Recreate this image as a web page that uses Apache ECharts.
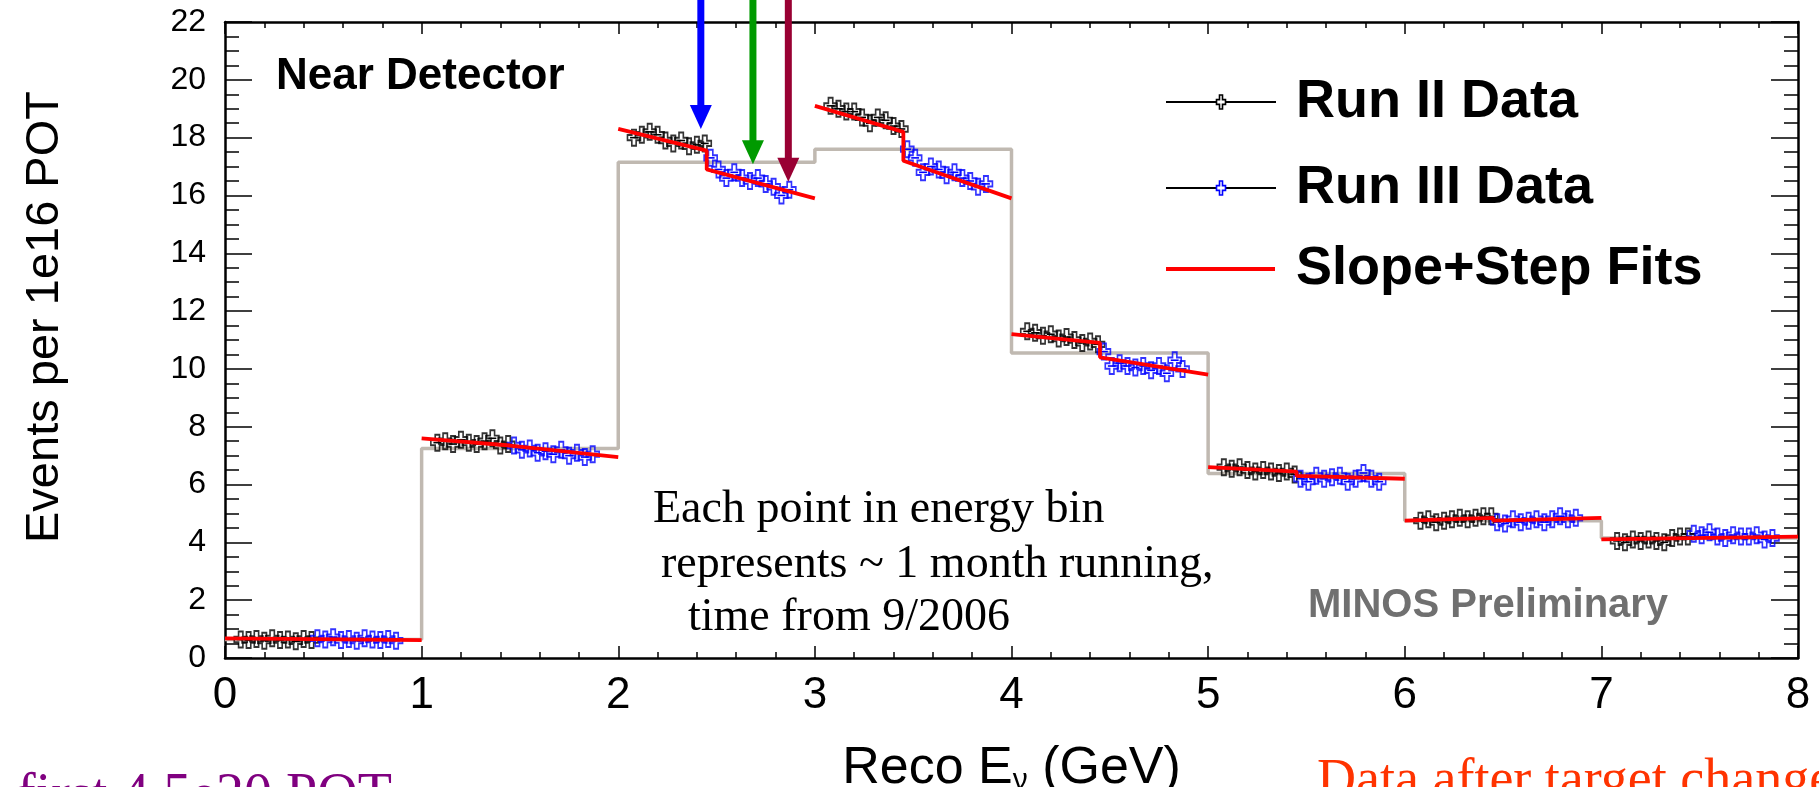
<!DOCTYPE html>
<html><head><meta charset="utf-8">
<script src="https://cdn.jsdelivr.net/npm/echarts@6/dist/echarts.min.js"></script>
<style>html,body{margin:0;padding:0;background:#fff}#c{width:1819px;height:787px}</style>
</head><body><div id="c"></div>
<script>
// ---------- data ----------
const binEdges = [0, 1, 2, 3, 4, 5, 6, 7];
// position of each monthly point inside an energy bin (fraction of the bin)
const runIIOffsets  = [0.08, 0.12, 0.16, 0.20, 0.24, 0.28, 0.32, 0.36, 0.40, 0.44];
const runIIIOffsets = [0.47, 0.51, 0.55, 0.59, 0.63, 0.67, 0.71, 0.75, 0.79, 0.83, 0.87];
const runII = [
  [0.64, 0.62, 0.66, 0.60, 0.68, 0.62, 0.64, 0.58, 0.66, 0.62],
  [7.45, 7.50, 7.40, 7.55, 7.45, 7.40, 7.50, 7.60, 7.35, 7.40],
  [18.00, 18.10, 18.20, 18.10, 17.90, 17.80, 17.90, 17.70, 17.75, 17.80],
  [19.10, 19.00, 18.90, 18.90, 18.70, 18.50, 18.70, 18.60, 18.40, 18.30],
  [11.30, 11.25, 11.15, 11.20, 11.05, 11.10, 11.00, 10.90, 10.95, 10.85],
  [6.60, 6.55, 6.60, 6.50, 6.45, 6.50, 6.45, 6.40, 6.45, 6.35],
  [4.75, 4.80, 4.70, 4.75, 4.80, 4.85, 4.80, 4.85, 4.90, 4.90],
  [4.05, 4.00, 4.10, 4.05, 4.10, 4.05, 4.00, 4.15, 4.20, 4.20]
];
const runIII = [
  [0.68, 0.64, 0.72, 0.62, 0.66, 0.60, 0.68, 0.64, 0.62, 0.66, 0.60],
  [7.35, 7.20, 7.25, 7.10, 7.15, 7.05, 7.20, 7.00, 7.10, 6.95, 7.05],
  [17.30, 16.90, 16.60, 16.80, 16.60, 16.50, 16.60, 16.40, 16.30, 16.00, 16.20],
  [17.60, 17.30, 16.80, 17.00, 16.90, 16.70, 16.80, 16.60, 16.50, 16.30, 16.40],
  [10.60, 10.10, 10.20, 10.10, 10.05, 10.10, 9.95, 10.10, 9.85, 10.30, 10.00],
  [6.20, 6.10, 6.30, 6.20, 6.25, 6.30, 6.10, 6.20, 6.40, 6.20, 6.10],
  [4.70, 4.65, 4.80, 4.70, 4.75, 4.80, 4.70, 4.80, 4.90, 4.80, 4.85],
  [4.30, 4.25, 4.35, 4.20, 4.15, 4.25, 4.20, 4.20, 4.25, 4.10, 4.15]
];
// slope+step fit per bin: [value at bin start, value before step, value after step, value at bin end]
const fitStepAt = 0.45;
const fits = [
  [0.68, 0.65, 0.64, 0.62],
  [7.60, 7.35, 7.30, 6.95],
  [18.30, 17.55, 16.90, 15.90],
  [19.10, 18.20, 17.20, 15.90],
  [11.20, 10.90, 10.40, 9.80],
  [6.60, 6.45, 6.30, 6.20],
  [4.75, 4.85, 4.75, 4.85],
  [4.10, 4.15, 4.20, 4.20]
];
// grey prediction histogram per bin
const mcHist = [0.64, 7.25, 17.15, 17.60, 10.55, 6.38, 4.75, 4.15];
// arrows: [energy, value at tip, colour]
const arrows = [[2.42, 18.30, '#0000ff'], [2.685, 17.08, '#009a00'], [2.865, 16.47, '#990033']];
const xErr = 0.02;

// ---------- build ----------
const crossPath = 'path://M-1,-3L1,-3L1,-1L3,-1L3,1L1,1L1,3L-1,3L-1,1L-3,1L-3,-1L-1,-1Z';
function pts(vals, offs) {
  const out = [];
  vals.forEach((row, b) => row.forEach((v, i) => out.push([binEdges[b] + offs[i], v])));
  return out;
}
const dII = pts(runII, runIIOffsets);
const dIII = pts(runIII, runIIIOffsets);
const histData = mcHist.map((v, i) => [binEdges[i], v]).concat([[8, mcHist[mcHist.length - 1]]]);

const sans = "'Liberation Sans', Arial, Helvetica, sans-serif";
const narrow = "'Liberation Sans Narrow', 'Liberation Sans', Arial, sans-serif";
const serif = "'Liberation Serif', 'Times New Roman', serif";

function errBars(color) {
  return function (params, api) {
    const y = api.value(1), x = api.value(0);
    const a = api.coord([x - xErr, y]), b = api.coord([x + xErr, y]);
    return { type: 'line', shape: { x1: a[0], y1: a[1], x2: b[0], y2: b[1] }, style: { stroke: color, lineWidth: 1.6 } };
  };
}

const series = [
  { name: 'prediction', type: 'line', step: 'end', data: histData, symbol: 'none',
    lineStyle: { color: '#c0b9b1', width: 3.5 }, z: 1, silent: true },
  { type: 'custom', data: dII, renderItem: errBars('#000'), z: 2, silent: true },
  { type: 'custom', data: dIII, renderItem: errBars('#0000ff'), z: 2, silent: true },
  { name: 'Run II Data', type: 'scatter', data: dII, symbol: crossPath, symbolSize: [13, 16],
    itemStyle: { color: 'rgba(255,255,255,0)', borderColor: '#000', borderWidth: 1.8 }, z: 3 },
  { name: 'Run III Data', type: 'scatter', data: dIII, symbol: crossPath, symbolSize: [13, 16],
    itemStyle: { color: 'rgba(255,255,255,0)', borderColor: '#0000ff', borderWidth: 1.8 }, z: 3 }
];
fits.forEach((f, b) => {
  const x0 = binEdges[b];
  series.push({ name: 'Slope+Step Fits', type: 'line', symbol: 'none', z: 4,
    data: [[x0, f[0]], [x0 + fitStepAt, f[1]], [x0 + fitStepAt, f[2]], [x0 + 1, f[3]]],
    lineStyle: { color: '#ff0000', width: 3.8 } });
});
series.push({ type: 'custom', z: 6, clip: false, silent: true, data: arrows,
  renderItem: function (params, api) {
    const tip = api.coord([api.value(0), api.value(1)]);
    const col = arrows[params.dataIndex][2];
    const headH = 24, headW = 11, sw = 3.5;
    return { type: 'group', children: [
      { type: 'rect', shape: { x: tip[0] - sw, y: 0, width: sw * 2, height: tip[1] - headH + 1 }, style: { fill: col } },
      { type: 'polygon', shape: { points: [[tip[0] - headW, tip[1] - headH], [tip[0] + headW, tip[1] - headH], [tip[0], tip[1]]] }, style: { fill: col } }
    ] };
  } });

function xAx(pos, show) {
  return { type: 'value', min: 0, max: 8, interval: 1, position: pos,
    axisLine: { onZero: false, lineStyle: { color: '#000', width: 2.5 } },
    axisTick: { inside: true, length: 12, lineStyle: { color: '#000', width: 1.5 } },
    minorTick: { show: true, splitNumber: 5, length: 6, lineStyle: { color: '#000', width: 1.5 } },
    splitLine: { show: false },
    axisLabel: { show: show, fontSize: 44, fontFamily: narrow, color: '#000', margin: 16 } };
}
function yAx(pos, show) {
  return { type: 'value', min: 0, max: 22, interval: 2, position: pos,
    axisLine: { onZero: false, lineStyle: { color: '#000', width: 2.5 } },
    axisTick: { inside: true, length: 27, lineStyle: { color: '#000', width: 1.5 } },
    minorTick: { show: true, splitNumber: 4, length: 14, lineStyle: { color: '#000', width: 1.5 } },
    splitLine: { show: false },
    axisLabel: { show: show, fontSize: 32, fontFamily: sans, color: '#000', margin: 19, padding: [9, 0, 0, 0] } };
}
const xMain = xAx('bottom', true);
xMain.name = 'Reco E{sub|ν} (GeV)';
xMain.nameLocation = 'middle';
xMain.nameGap = 84;
xMain.nameTextStyle = { fontSize: 52, fontFamily: narrow, color: '#000',
  rich: { sub: { fontSize: 30, fontFamily: narrow, verticalAlign: 'bottom', padding: [24, 0, 0, 0] } } };
const yMain = yAx('left', true);
yMain.name = 'Events per 1e16 POT';
yMain.nameLocation = 'middle';
yMain.nameGap = 156;
yMain.nameTextStyle = { fontSize: 47, fontFamily: sans, color: '#000', padding: [0, 0, 0, 46] };

// legend drawn as graphic
function crossPts(cx, cy, w, h) {
  const a = w / 6, b = h / 6;
  return [[cx - a, cy - 3 * b], [cx + a, cy - 3 * b], [cx + a, cy - b], [cx + 3 * a, cy - b], [cx + 3 * a, cy + b], [cx + a, cy + b],
    [cx + a, cy + 3 * b], [cx - a, cy + 3 * b], [cx - a, cy + b], [cx - 3 * a, cy + b], [cx - 3 * a, cy - b], [cx - a, cy - b]];
}
const legendRows = [
  { label: 'Run II Data', y: 102, kind: 'pt', col: '#000' },
  { label: 'Run III Data', y: 188, kind: 'pt', col: '#0000ff' },
  { label: 'Slope+Step Fits', y: 269, kind: 'fit', col: '#ff0000' }
];
const graphics = [];
legendRows.forEach(r => {
  if (r.kind === 'pt') {
    graphics.push({ type: 'line', shape: { x1: 1166, y1: r.y, x2: 1276, y2: r.y }, style: { stroke: '#000', lineWidth: 2 } });
    graphics.push({ type: 'polygon', shape: { points: crossPts(1221, r.y, 9, 14) }, style: { fill: '#fff', stroke: r.col, lineWidth: 1.6 } });
  } else {
    graphics.push({ type: 'line', shape: { x1: 1166, y1: r.y, x2: 1275, y2: r.y }, style: { stroke: r.col, lineWidth: 4 } });
  }
  graphics.push({ type: 'text', x: 1296, y: r.y, style: { text: r.label, fontSize: 54, fontWeight: 'bold', fontFamily: sans, fill: '#000', verticalAlign: 'middle', align: 'left' } });
});
graphics.push({ type: 'text', x: 276, y: 77, style: { text: 'Near Detector', fontSize: 44, fontWeight: 'bold', fontFamily: sans, fill: '#000', verticalAlign: 'middle' } });
graphics.push({ type: 'text', x: 1308, y: 606, style: { text: 'MINOS Preliminary', fontSize: 40, fontWeight: 'bold', fontFamily: sans, fill: '#707070', verticalAlign: 'middle' } });
graphics.push({ type: 'text', x: 653, y: 510, style: { text: 'Each point in energy bin', fontSize: 46, fontFamily: serif, fill: '#000', verticalAlign: 'middle' } });
graphics.push({ type: 'text', x: 661, y: 565, style: { text: 'represents ~ 1 month running,', fontSize: 46, fontFamily: serif, fill: '#000', verticalAlign: 'middle' } });
graphics.push({ type: 'text', x: 688, y: 618, style: { text: 'time from 9/2006', fontSize: 46, fontFamily: serif, fill: '#000', verticalAlign: 'middle' } });
graphics.push({ type: 'text', x: 17, y: 797, style: { text: 'first 4.5e20 POT', fontSize: 56, fontFamily: serif, fill: '#800080', verticalAlign: 'middle' } });
graphics.push({ type: 'text', x: 1317, y: 782, style: { text: 'Data after target change', fontSize: 54, fontFamily: serif, fill: '#ff3300', verticalAlign: 'middle' } });

const chart = echarts.init(document.getElementById('c'), null, { renderer: 'canvas' });
chart.setOption({
  animation: false,
  backgroundColor: '#fff',
  grid: { left: 225, right: 21, top: 22, bottom: 129, outerBoundsMode: 'none', containLabel: false },
  xAxis: [xMain, xAx('top', false)],
  yAxis: [yMain, yAx('right', false)],
  series: series,
  graphic: graphics
});
</script></body></html>
